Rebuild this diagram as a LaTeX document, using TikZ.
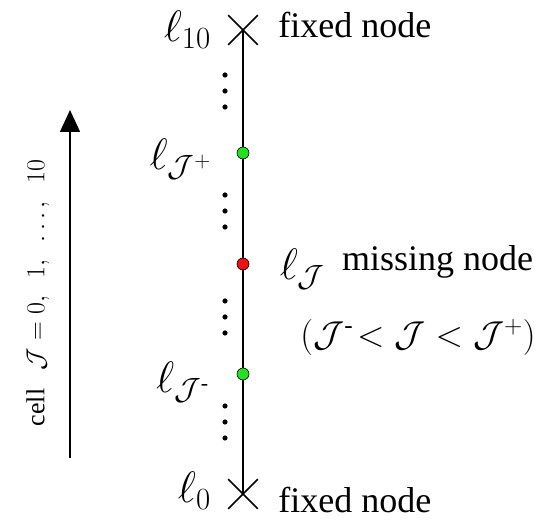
\RequirePackage{fix-cm}
\documentclass[tikz,border=0pt]{standalone}
\usepackage{amsmath}
\usepackage{fontspec}
\setmainfont{Liberation Serif}
\usepackage{xcolor}
\definecolor{vert}{HTML}{22E022}
\definecolor{rouge}{HTML}{F01010}
\usepackage{tikz}
\usetikzlibrary{positioning,arrows.meta,shapes.misc}

\begin{document}
\begin{tikzpicture}[x=1pt,y=1pt,
  every node/.style={font=\fontsize{36}{40}\selectfont},
  fixe/.style={draw,cross out,minimum size=28pt,inner sep=0pt,line width=1.6pt},
  noeud/.style={circle,draw=black,line width=0.6pt,minimum size=12pt,inner sep=0pt},
  lab/.style={font=\fontsize{44}{48}\selectfont},
  axe/.style={line width=1.6pt}
]
\useasboundingbox (0,0) rectangle (535,521);
% noeuds sur la ligne
\node[fixe] (l10) at (243,491) {};
\node[fixe] (l0) at (243,27) {};
\node[noeud,fill=vert] (jp) at (243,368) {};
\node[noeud,fill=rouge] (j) at (243,257) {};
\node[noeud,fill=vert] (jm) at (243,147) {};
\draw[axe] (l0.center) -- (jm) -- (j) -- (jp) -- (l10.center);
% points de suspension
\foreach \y in {430,310,204,99}
  \foreach \d in {-16,0,16}
    \fill (225,\y+\d) circle (2.6);
% etiquettes
\node[lab,left=14pt of l10] (tl10) {$\ell_{10}$};
\node[right=17pt of l10,yshift=5pt] (fix1) {fixed node};
\node[lab,left=14pt of l0,yshift=3pt] (tl0) {$\ell_{0}$};
\node[right=17pt of l0,yshift=-6pt] (fix0) {fixed node};
\node[lab,left=22pt of jp,yshift=-6pt] (tjp) {$\ell_{\mathcal{J}^{+}}$};
\node[lab,left=24pt of jm,yshift=-8pt] (tjm) {$\ell_{\mathcal{J}^{\text{-}}}$};
\node[lab,right=27pt of j,yshift=-5pt] (tj) {$\ell_{\mathcal{J}}$};
\node[right=10pt of tj,yshift=7pt] (miss) {missing node};
\node (ineq) at (418,184) {$(\mathcal{J}^{\text{-}}\!<\mathcal{J}<\mathcal{J}^{+})$};
% fleche des cellules
\coordinate (bas) at (70,63);
\coordinate (haut) at (70,411);
\draw[axe,-{Triangle[length=22pt,width=20pt]}] (bas) -- (haut);
\node[rotate=90,font=\fontsize{26}{29}\selectfont] (cell) at (38,228)
  {cell\hspace{0.7em}$\mathcal{J}=0,\enspace 1,\enspace \ldots,\enspace 10$};
\end{tikzpicture}
\end{document}
